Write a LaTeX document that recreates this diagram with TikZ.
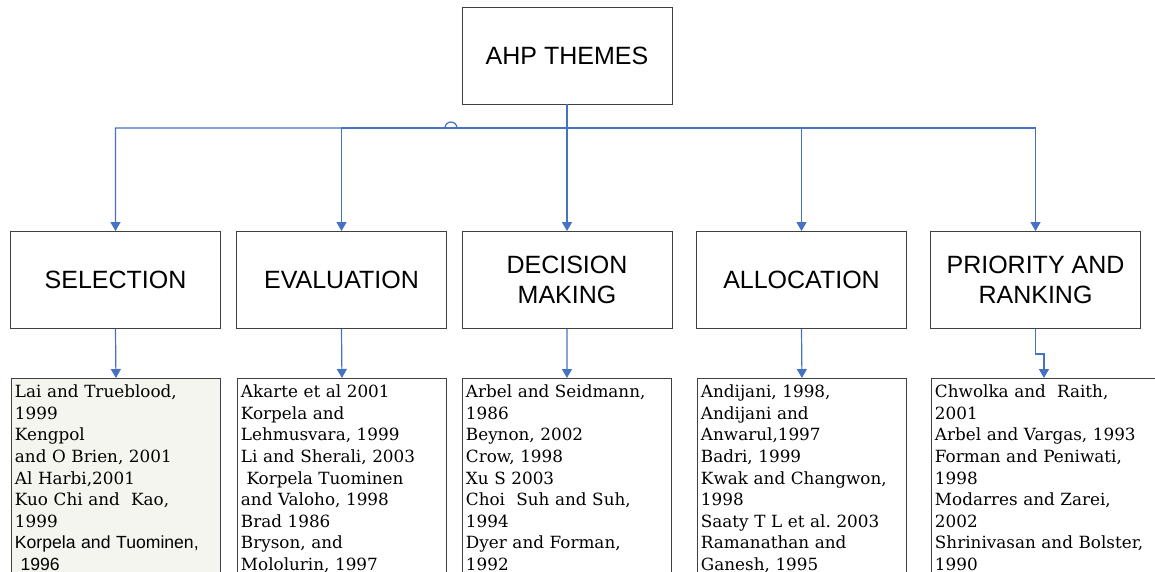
\documentclass[tikz,border=0pt]{standalone}
\usepackage{fontspec}
\setmainfont{DejaVu Serif}
\setsansfont{Liberation Sans}
\usetikzlibrary{arrows.meta,positioning}
\definecolor{linkblue}{RGB}{70,114,196}
\definecolor{listfill}{RGB}{243,245,238}
\newcommand{\sanslist}{\fontsize{17.6}{21.6}\selectfont\sffamily}
\frenchspacing

\begin{document}
\begin{tikzpicture}[
  x=1pt, y=1pt,
  >={Triangle[width=10pt,length=9pt]},
  theme/.style={draw=black!75,line width=0.9pt,minimum width=210pt,minimum height=97pt,
    inner sep=0pt,font=\fontsize{25}{30}\selectfont\sffamily,align=center},
  listbox/.style={draw=black!75,line width=0.9pt,anchor=north west,text width=202pt,
    inner xsep=3.5pt,inner ysep=6.5pt,align=left,font=\fontsize{16.8}{21.6}\selectfont},
  conn/.style={->,linkblue,line width=1.2pt},
]

% ===================================================================
% Frame: fixes the page to the reference size
% ===================================================================
\useasboundingbox (0,0) rectangle (1155,-571);

% ===================================================================
% Top and theme boxes
% ===================================================================
\node[theme] (themes) at (567,-55.5) {AHP THEMES};

\node[theme] (sel)   at (115.5,-280) {SELECTION};
\node[theme] (eval)  at (341.5,-280) {EVALUATION};
\node[theme] (dec)   at (567,-280)   {DECISION\\MAKING};
\node[theme] (alloc) at (801.5,-280) {ALLOCATION};
\node[theme] (prio)  at (1035.5,-280) {PRIORITY AND\\RANKING};

% ===================================================================
% Reference lists (run off the bottom of the page)
% ===================================================================
\node[listbox,fill=listfill] (sellist) at (11,-378)
  {Lai and Trueblood,\\1999\\Kengpol\\and O Brien, 2001\\Al Harbi,2001\\
   Kuo Chi and\ \ Kao,\\1999\\{\sanslist Korpela and Tuominen,}\\{\sanslist\mbox{}\ 1996}};
\node[listbox] (evallist) at (237,-378)
  {Akarte et al 2001\\Korpela and\\Lehmusvara, 1999\\Li and Sherali, 2003\\
   \mbox{}\ Korpela Tuominen\\and Valoho, 1998\\Brad 1986\\Bryson, and\\Mololurin, 1997};
\node[listbox] (declist) at (462,-378)
  {Arbel and Seidmann,\\1986\\Beynon, 2002\\Crow, 1998\\Xu S 2003\\
   Choi\ \ Suh and Suh,\\1994\\Dyer and Forman,\\1992};
\node[listbox] (alloclist) at (697,-378)
  {Andijani, 1998,\\Andijani and\\Anwarul,1997\\Badri, 1999\\Kwak and Changwon,\\
   1998\\Saaty T L et al. 2003\\Ramanathan and\\Ganesh, 1995};
\node[listbox,text width=218pt] (priolist) at (931,-378)
  {Chwolka and\ \ Raith,\\2001\\Arbel and Vargas, 1993\\Forman and Peniwati,\\1998\\
   Modarres and Zarei,\\2002\\Shrinivasan and Bolster,\\1990};

% ===================================================================
% Connectors
% ===================================================================
\coordinate (bus) at (0,-128);
\coordinate (hop) at (451,-128);   % line jump
\draw[conn] (themes.south) -- (dec.north);
\draw[conn] (themes.south |- bus) -- ([xshift=6pt]hop)
  arc[start angle=0,end angle=180,radius=6pt] -| (sel.north);
\draw[conn] (themes.south |- bus) -| (eval.north);
\draw[conn] (themes.south |- bus) -| (alloc.north);
\draw[conn] (themes.south |- bus) -| (prio.north);

\draw[conn] (sel.south) -- (sellist.north);
\draw[conn] (eval.south) -- (evallist.north);
\draw[conn] (dec.south) -- (declist.north);
\draw[conn] (alloc.south) -- (alloclist.north);
\draw[conn] (prio.south) -- ++(0,-25) -| (priolist.north);

\end{tikzpicture}
\end{document}
